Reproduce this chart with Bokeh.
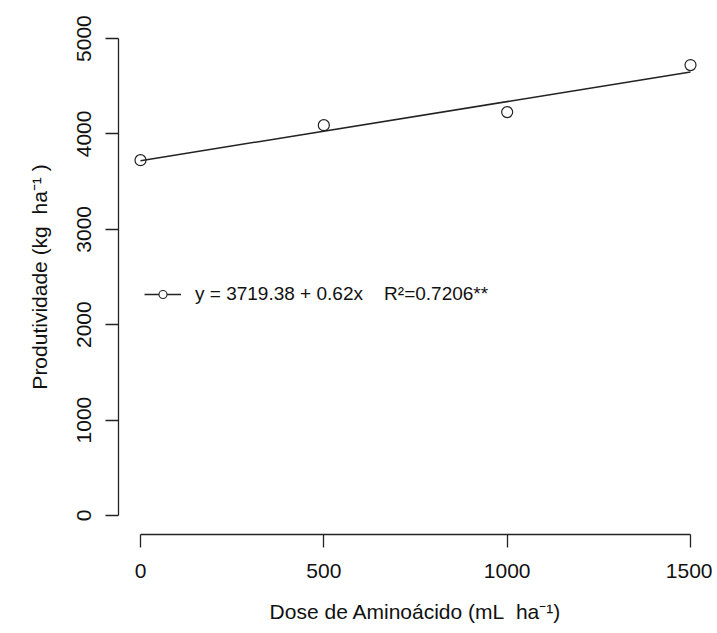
import numpy as np
from bokeh.plotting import figure
from bokeh.models import FixedTicker, Legend, LegendItem, ColumnDataSource
from bokeh.embed import file_html
from bokeh.resources import INLINE

# Data
dose = [0, 500, 1000, 1500]
produtividade = [3725, 4092, 4229, 4722]
intercept = 3719.38
slope = 0.62
x_ticks = [0, 500, 1000, 1500]
y_ticks = [0, 1000, 2000, 3000, 4000, 5000]
legend_label = "y = 3719.38 + 0.62x\u00a0\u00a0\u00a0 R\u00b2=0.7206**"
x_title = "Dose de Amino\u00e1cido (mL\u00a0 ha\u207b\u00b9)"
y_title = "Produtividade (kg\u00a0 ha\u207b\u00b9\u00a0)"

FONT = "Liberation Sans"

p = figure(frame_width=594, frame_height=515,
           x_range=(-60, 1560), y_range=(-200, 5200),
           output_backend="svg", toolbar_location=None,
           min_border_left=118, min_border_right=0,
           min_border_top=19, min_border_bottom=91)
p.outline_line_color = None
p.grid.visible = False
p.background_fill_color = "white"

for ax, ticks, bounds in ((p.xaxis[0], x_ticks, (0, 1500)), (p.yaxis[0], y_ticks, (0, 5000))):
    ax.ticker = FixedTicker(ticks=ticks)
    ax.bounds = bounds
    ax.minor_tick_line_color = None
    ax.major_tick_in = 0
    ax.major_tick_out = 13
    ax.axis_line_color = "#222222"
    ax.major_tick_line_color = "#222222"
    ax.axis_line_width = 1.3
    ax.major_tick_line_width = 1.3
    ax.major_label_text_font = FONT
    ax.major_label_text_font_size = "21px"
    ax.major_label_text_color = "#111111"
    ax.axis_label_text_font = FONT
    ax.axis_label_text_font_size = "21px"
    ax.axis_label_text_font_style = "normal"
    ax.axis_label_text_color = "#111111"

p.xaxis.major_label_standoff = 16
p.xaxis.axis_label = x_title
p.xaxis.axis_label_standoff = 19
p.yaxis.major_label_orientation = "vertical"
p.yaxis.major_label_standoff = 14
p.yaxis.axis_label = y_title
p.yaxis.axis_label_standoff = 24

# fitted line
fx = np.array([min(dose), max(dose)], dtype=float)
fy = intercept + slope * fx
p.line(fx, fy, line_color="#222222", line_width=1.5)

# points
src = ColumnDataSource(dict(x=dose, y=produtividade))
p.scatter("x", "y", source=src, marker="circle", size=11, fill_color=None,
          line_color="#222222", line_width=1.2)

# legend proxies
lg_line = p.line([np.nan], [np.nan], line_color="#222222", line_width=1.5)
lg_pt = p.scatter([np.nan], [np.nan], marker="circle", size=5, fill_color="white",
                  line_color="#222222", line_width=1.1)
legend = Legend(items=[LegendItem(label=legend_label, renderers=[lg_line, lg_pt])],
                location=(26, 229), glyph_width=37, glyph_height=20,
                label_standoff=14, padding=0, margin=0, spacing=0,
                border_line_color=None, background_fill_alpha=0,
                label_text_font=FONT, label_text_font_size="19px",
                label_text_color="#111111")
p.add_layout(legend, "center")

open("out.html", "w").write(file_html(p, INLINE))
